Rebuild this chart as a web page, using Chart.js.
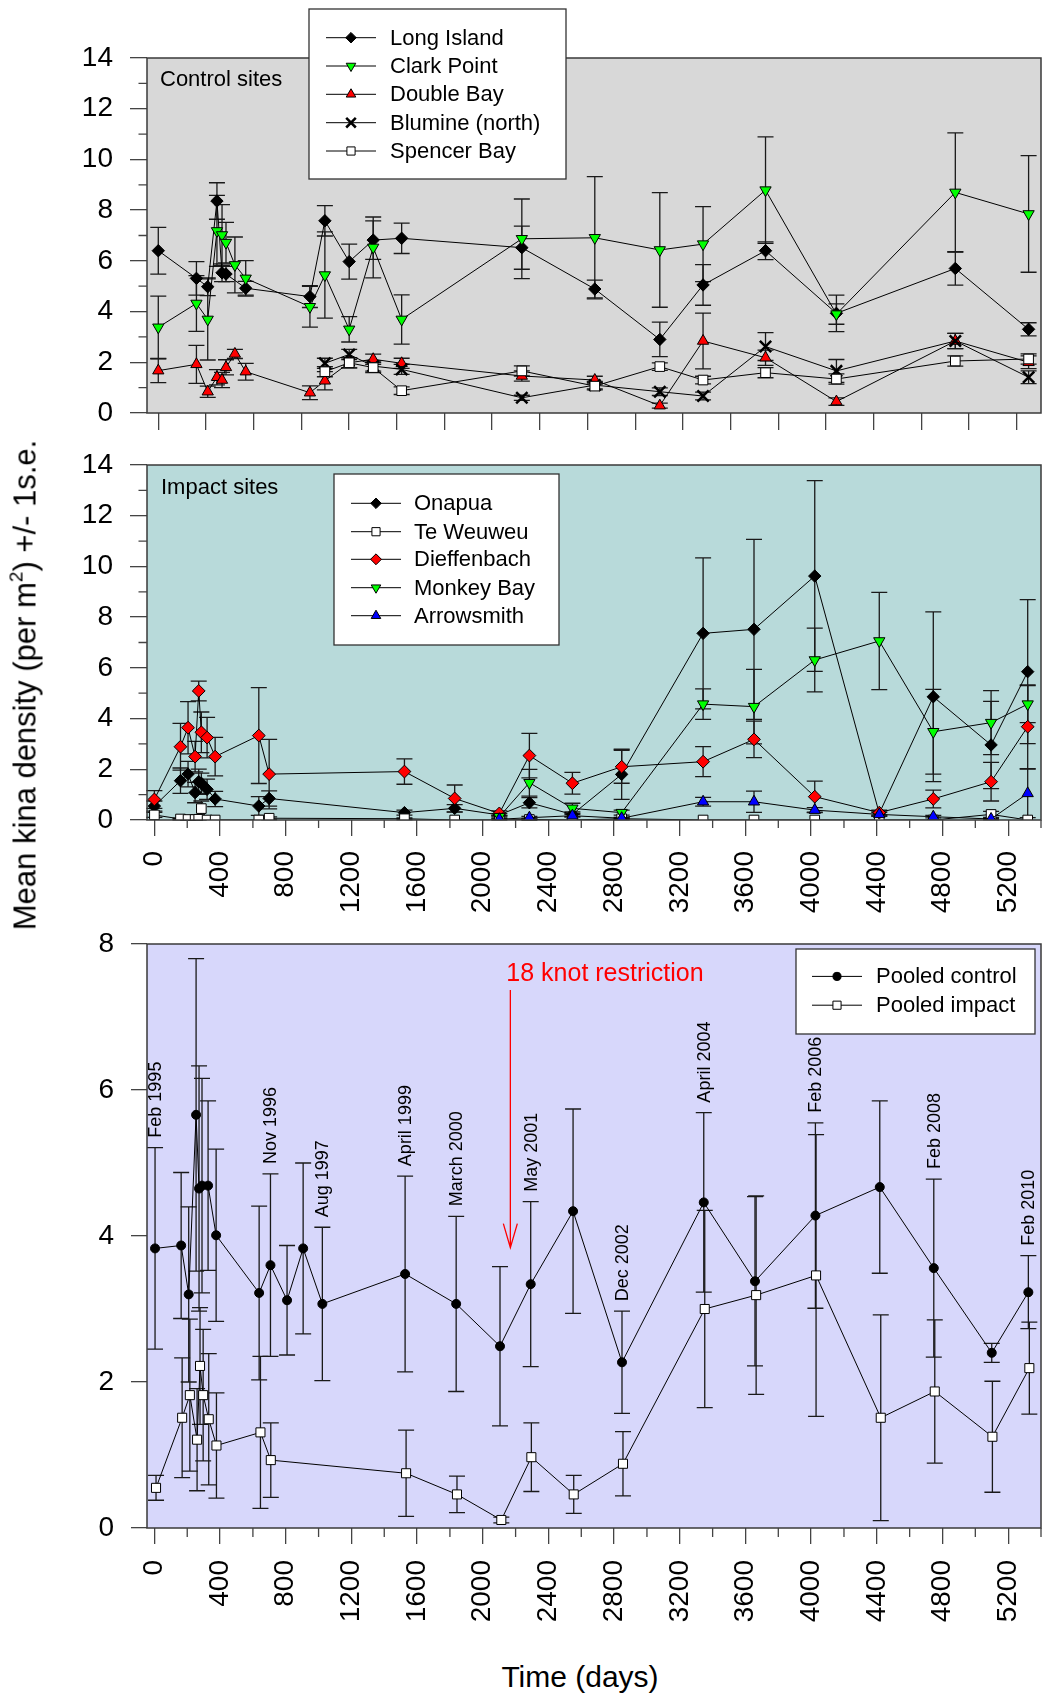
<!DOCTYPE html>
<html>
<head>
<meta charset="utf-8">
<script src="https://cdn.jsdelivr.net/npm/chart.js@4.4.0/dist/chart.umd.min.js"></script>
<style>
  body { margin: 0; background: #fff; }
  #fig { position: relative; width: 1044px; height: 1699px; background: #fff; overflow: hidden;
         font-family: "Liberation Sans", Arial, sans-serif; color: #000; }
  #fig canvas { position: absolute; left: 0; }
  #ytitle { position: absolute; left: 25px; top: 685px; font-size: 31px; line-height: 31px; white-space: nowrap;
            transform: translate(-50%, -50%) rotate(-90deg); }
  #ytitle sup { font-size: 19px; line-height: 0; position: relative; top: -2px; }
  #xtitle { position: absolute; left: 0; width: 1160px; top: 1662px; font-size: 30px; line-height: 30px; text-align: center; }
</style>
</head>
<body>
<div id="fig">
  <canvas id="c1" width="1044" height="440" style="top:0px"></canvas>
  <canvas id="c2" width="1044" height="480" style="top:440px"></canvas>
  <canvas id="c3" width="1044" height="720" style="top:920px"></canvas>
  <div id="ytitle">Mean kina density (per m<sup>2</sup>) +/- 1s.e.</div>
  <div id="xtitle">Time (days)</div>
</div>
<script>
// ---- axis ticks ----
const dayTicks = [0, 400, 800, 1200, 1600, 2000, 2400, 2800, 3200, 3600, 4000, 4400, 4800, 5200];
const dayMinorTicks = [200, 600, 1000, 1400, 1800, 2200, 2600, 3000, 3400, 3800, 4200, 4600, 5000, 5400];
const controlAxisTicks = [0, 300, 600, 900, 1200, 1500, 1800, 2100, 2400, 2700, 3000, 3300, 3600, 3900, 4200, 4500, 4800, 5100, 5400];
const densityMinorTicks = [1, 3, 5, 7, 9, 11, 13];

// ---- control sites (top panel) ----
const controlDays = [0, 240, 311, 369, 401, 426, 482, 550, 954, 1048, 1201, 1352, 1531, 2287, 2746, 3155, 3427, 3820, 4266, 5014, 5475];
const longIsland   = [6.40, 5.31, 4.98, 8.36, 5.53, 5.48, null, 4.92, 4.59, 7.58, 5.97, 6.82, 6.89, 6.52, 4.89, 2.90, 5.05, 6.40, 3.93, 5.70, 3.30];
const longIslandSE = [0.92, 0.66, 0.35, 0.72, 0.35, 0.30, null, 0.27, 0.43, 0.60, 0.69, 0.76, 0.60, 0.85, 0.35, 0.68, 0.80, 0.35, 0.72, 0.66, 0.26];
const clarkPoint   = [3.38, 4.32, 3.69, 7.18, 7.02, 6.72, 5.84, 5.31, 4.19, 5.44, 3.30, 6.53, 3.69, 6.87, 6.91, 6.43, 6.66, 8.79, 3.90, 8.70, 7.85];
const clarkPointSE = [1.23, 1.10, 1.60, 1.40, 1.20, 0.80, 1.10, 0.70, 0.80, 1.70, 0.50, 1.20, 0.97, 1.57, 2.41, 2.26, 1.48, 2.10, 0.40, 2.35, 2.30];
const doubleBay    = [1.67, 1.92, 0.84, 1.41, 1.30, 1.80, 2.33, 1.63, 0.80, 1.27, 1.98, 2.12, 1.96, 1.46, 1.30, 0.29, 2.84, 2.18, 0.45, 2.84, 2.00];
const doubleBaySE  = [0.47, 0.75, 0.22, 0.30, 0.30, 0.30, 0.18, 0.33, 0.27, 0.36, 0.20, 0.20, 0.20, 0.20, 0.15, 0.10, 1.10, 0.30, 0.15, 0.30, 0.25];
const blumine      = [null, null, null, null, null, null, null, null, null, 1.96, 2.31, 1.85, 1.72, 0.60, 1.10, 0.84, 0.67, 2.62, 1.66, 2.84, 1.41];
const blumineSE    = [null, null, null, null, null, null, null, null, null, 0.20, 0.20, 0.20, 0.20, 0.10, 0.15, 0.15, 0.15, 0.55, 0.45, 0.30, 0.25];
const spencerBay   = [null, null, null, null, null, null, null, null, null, 1.63, 1.98, 1.79, 0.88, 1.66, 1.06, 1.83, 1.30, 1.59, 1.34, 2.05, 2.13];
const spencerBaySE = [null, null, null, null, null, null, null, null, null, 0.20, 0.20, 0.20, 0.15, 0.20, 0.15, 0.15, 0.15, 0.20, 0.20, 0.20, 0.20];

// ---- impact sites (middle panel) ----
const impactDays = [0, 159, 205, 248, 270, 286, 321, 370, 636, 699, 1523, 1829, 2101, 2284, 2546, 2846, 3342, 3652, 4022, 4415, 4744, 5096, 5319];
const onapua        = [0.55, 1.55, 1.81, 1.08, 1.51, 1.45, 1.21, 0.83, 0.55, 0.85, 0.29, 0.46, 0.20, 0.68, 0.22, 1.80, 7.36, 7.52, 9.62, 0.26, 4.86, 2.96, 5.85];
const onapuaSE      = [0.20, 0.50, 0.50, 0.40, 0.50, 0.40, 0.40, 0.30, 0.37, 0.30, 0.10, 0.15, 0.05, 0.20, 0.10, 0.99, 2.98, 3.55, 3.76, 0.10, 3.35, 1.72, 2.84];
const teWeuweu      = [0.20, 0.04, 0.02, 0.02, 0.03, 0.45, 0.00, 0.00, 0.00, 0.07, 0.05, 0.00, 0.00, 0.02, 0.00, 0.05, 0.00, 0.00, 0.00, 0.00, 0.00, 0.22, 0.00];
const teWeuweuSE    = [0.10, 0.03, 0.02, 0.02, 0.02, 0.30, 0, 0, 0, 0.05, 0.03, 0, 0, 0.02, 0, 0.03, 0, 0, 0, 0, 0, 0.12, 0];
const dieffenbach   = [0.81, 2.89, 3.64, 2.50, 5.09, 3.46, 3.25, 2.50, 3.33, 1.81, 1.91, 0.85, 0.26, 2.54, 1.45, 2.10, 2.30, 3.18, 0.92, 0.29, 0.83, 1.51, 3.68];
const dieffenbachSE = [0.35, 0.92, 1.03, 0.60, 0.39, 0.80, 0.80, 0.76, 1.89, 1.37, 0.50, 0.53, 0.10, 0.88, 0.43, 0.65, 0.59, 0.72, 0.61, 0.10, 0.35, 0.76, 1.65];
const monkeyBay     = [null, null, null, null, null, null, null, null, null, null, null, null, 0.13, 1.47, 0.46, 0.29, 4.57, 4.47, 6.31, 7.06, 3.48, 3.84, 4.57];
const monkeyBaySE   = [null, null, null, null, null, null, null, null, null, null, null, null, 0.05, 0.53, 0.20, 0.10, 0.60, 1.47, 1.26, 1.92, 1.67, 1.26, 0.73];
const arrowsmith    = [null, null, null, null, null, null, null, null, null, null, null, null, 0.03, 0.09, 0.17, 0.07, 0.72, 0.72, 0.39, 0.22, 0.13, 0.04, 1.05];
const arrowsmithSE  = [null, null, null, null, null, null, null, null, null, null, null, null, 0.02, 0.05, 0.05, 0.03, 0.17, 0.42, 0.10, 0.08, 0.05, 0.02, 0.96];

// ---- pooled (bottom panel) ----
const pooledControlDays = [4, 163, 209, 254, 272, 290, 327, 376, 638, 707, 808, 906, 1023, 1527, 1838, 2105, 2292, 2550, 2848, 3346, 3658, 4026, 4418, 4747, 5100, 5323];
const pooledControl     = [3.83, 3.87, 3.20, 5.66, 4.65, 4.69, 4.69, 4.01, 3.22, 3.60, 3.12, 3.83, 3.07, 3.48, 3.07, 2.49, 3.34, 4.34, 2.27, 4.46, 3.38, 4.28, 4.67, 3.56, 2.40, 3.23];
const pooledControlSE   = [1.38, 1.00, 1.20, 2.14, 1.68, 1.47, 1.16, 1.18, 1.19, 1.25, 0.75, 1.17, 1.05, 1.34, 1.20, 1.09, 1.13, 1.40, 0.70, 1.23, 1.16, 1.27, 1.18, 1.22, 0.13, 0.50];
const pooledImpactDays  = [10, 169, 216, 260, 278, 297, 331, 378, 646, 709, 1533, 1843, 2113, 2296, 2554, 2854, 3352, 3665, 4030, 4424, 4753, 5104, 5329];
const pooledImpact      = [0.55, 1.51, 1.82, 1.21, 2.22, 1.82, 1.49, 1.13, 1.31, 0.93, 0.75, 0.46, 0.11, 0.97, 0.46, 0.88, 3.00, 3.19, 3.46, 1.51, 1.87, 1.25, 2.19];
const pooledImpactSE    = [0.17, 0.82, 1.04, 0.70, 0.80, 0.90, 0.90, 0.72, 1.04, 0.51, 0.59, 0.25, 0.04, 0.47, 0.26, 0.44, 1.35, 1.36, 1.93, 1.41, 0.98, 0.76, 0.63];

// survey dates written above the pooled control points (index into pooledControlDays)
const surveyLabels  = ['Feb 1995', 'Nov 1996', 'Aug 1997', 'April 1999', 'March 2000', 'May 2001', 'Dec 2002', 'April 2004', 'Feb 2006', 'Feb 2008', 'Feb 2010'];
const surveyLabelAt = [0, 9, 12, 13, 14, 16, 18, 19, 21, 23, 25];

// speed restriction arrow
const restrictionText = '18 knot restriction';
const restrictionDay = 2168;
const restrictionFrom = 7.37;
const restrictionTo = 3.84;
const restrictionTextValue = 7.59;

const FONT = '"Liberation Sans", Arial, sans-serif';
Chart.defaults.font.family = FONT;
Chart.defaults.color = '#000';

// build scatter points, skipping missing samples
function pts(days, vals, se) {
  const out = [];
  days.forEach((d, i) => {
    if (vals[i] === null) return;
    out.push({ x: d, y: vals[i], e: se[i] });
  });
  return out;
}

function series(label, data, shape, radius, fill, order, extra) {
  return Object.assign({
    label: label,
    data: data,
    showLine: true,
    borderColor: '#000',
    borderWidth: 1,
    pointStyle: shape,
    pointRadius: radius,
    pointRotation: 0,
    pointBackgroundColor: fill,
    pointBorderColor: '#000',
    pointBorderWidth: 1,
    order: order
  }, extra || {});
}

// small marker for the legends
function drawMarker(ctx, shape, x, y, r, rot, fill, bw) {
  ctx.save();
  ctx.translate(x, y);
  ctx.rotate((rot || 0) * Math.PI / 180);
  ctx.beginPath();
  if (shape === 'circle') {
    ctx.arc(0, 0, r, 0, Math.PI * 2);
  } else if (shape === 'rect') {
    const s = r * Math.SQRT1_2;
    ctx.rect(-s, -s, 2 * s, 2 * s);
  } else if (shape === 'rectRot') {
    ctx.moveTo(0, -r); ctx.lineTo(r, 0); ctx.lineTo(0, r); ctx.lineTo(-r, 0); ctx.closePath();
  } else if (shape === 'triangle') {
    for (let k = 0; k < 3; k++) {
      const a = k * 2 * Math.PI / 3;
      if (k === 0) ctx.moveTo(Math.sin(a) * r, -Math.cos(a) * r);
      else ctx.lineTo(Math.sin(a) * r, -Math.cos(a) * r);
    }
    ctx.closePath();
  } else if (shape === 'crossRot') {
    const s = r * Math.SQRT1_2;
    ctx.moveTo(-s, -s); ctx.lineTo(s, s); ctx.moveTo(-s, s); ctx.lineTo(s, -s);
  }
  ctx.fillStyle = fill;
  ctx.strokeStyle = '#000';
  ctx.lineWidth = bw;
  if (shape !== 'crossRot') ctx.fill();
  ctx.stroke();
  ctx.restore();
}

// background, error bars, frame, minor ticks, legend and notes
const panelPlugin = {
  id: 'panel',
  beforeDraw(chart, args, o) {
    const { ctx, chartArea: a } = chart;
    ctx.save();
    ctx.fillStyle = o.bg;
    ctx.fillRect(a.left, a.top, a.right - a.left, a.bottom - a.top);
    ctx.restore();
  },
  beforeDatasetsDraw(chart, args, o) {
    const ctx = chart.ctx, xs = chart.scales.x, ys = chart.scales.y;
    ctx.save();
    ctx.strokeStyle = '#1a1a1a';
    ctx.lineWidth = 1.3;
    chart.data.datasets.forEach(ds => {
      ds.data.forEach(p => {
        if (!p.e) return;
        const px = xs.getPixelForValue(p.x);
        const hi = ys.getPixelForValue(p.y + p.e);
        const lo = ys.getPixelForValue(Math.max(0, p.y - p.e));
        ctx.beginPath();
        ctx.moveTo(px, hi); ctx.lineTo(px, lo);
        ctx.moveTo(px - o.cap, hi); ctx.lineTo(px + o.cap, hi);
        ctx.moveTo(px - o.cap, lo); ctx.lineTo(px + o.cap, lo);
        ctx.stroke();
      });
    });
    ctx.restore();
  },
  afterDraw(chart, args, o) {
    const { ctx, chartArea: a } = chart;
    const xs = chart.scales.x, ys = chart.scales.y;
    ctx.save();
    // frame
    ctx.strokeStyle = '#3a3a3a';
    ctx.lineWidth = 1.5;
    ctx.strokeRect(a.left, a.top, a.right - a.left, a.bottom - a.top);

    // minor ticks
    ctx.lineWidth = 1.3;
    ctx.strokeStyle = '#444';
    ctx.beginPath();
    if (o.minorX) {
      o.minorX.values.forEach(v => {
        const px = xs.getPixelForValue(v);
        ctx.moveTo(px, a.bottom); ctx.lineTo(px, a.bottom + o.minorX.len);
      });
    }
    if (o.minorY) {
      o.minorY.values.forEach(v => {
        const py = ys.getPixelForValue(v);
        ctx.moveTo(a.left, py); ctx.lineTo(a.left - o.minorY.len, py);
      });
    }
    ctx.stroke();

    // panel notes
    (o.notes || []).forEach(n => {
      ctx.font = n.size + 'px ' + FONT;
      ctx.fillStyle = n.color || '#000';
      ctx.textBaseline = 'middle';
      ctx.textAlign = 'left';
      ctx.fillText(n.text, n.x, n.y);
    });

    // legend box
    if (o.legend) {
      const L = o.legend;
      ctx.fillStyle = '#fff';
      ctx.fillRect(L.box[0], L.box[1], L.box[2] - L.box[0], L.box[3] - L.box[1]);
      ctx.strokeStyle = '#333';
      ctx.lineWidth = 1.3;
      ctx.strokeRect(L.box[0], L.box[1], L.box[2] - L.box[0], L.box[3] - L.box[1]);
      chart.data.datasets.forEach((ds, i) => {
        const y = L.rows[i];
        ctx.strokeStyle = '#000';
        ctx.lineWidth = 1;
        ctx.beginPath();
        ctx.moveTo(L.line[0], y); ctx.lineTo(L.line[1], y);
        ctx.stroke();
        drawMarker(ctx, ds.pointStyle, (L.line[0] + L.line[1]) / 2, y, ds.pointRadius * L.scale,
                   ds.pointRotation, ds.pointBackgroundColor, ds.pointBorderWidth);
        ctx.font = L.size + 'px ' + FONT;
        ctx.fillStyle = '#000';
        ctx.textAlign = 'left';
        ctx.textBaseline = 'middle';
        ctx.fillText(ds.label, L.textX, y + 1);
      });
    }

    // survey dates above pooled control error bars
    if (o.dates) {
      const ds = chart.data.datasets[0];
      ctx.font = '18px ' + FONT;
      ctx.fillStyle = '#000';
      ctx.textAlign = 'left';
      ctx.textBaseline = 'middle';
      surveyLabels.forEach((t, i) => {
        const p = ds.data[surveyLabelAt[i]];
        const px = xs.getPixelForValue(p.x);
        const py = ys.getPixelForValue(p.y + p.e) - 10;
        ctx.save();
        ctx.translate(px + 1, py);
        ctx.rotate(-Math.PI / 2);
        ctx.fillText(t, 0, 0);
        ctx.restore();
      });
    }

    // restriction arrow
    if (o.arrow) {
      const ax = xs.getPixelForValue(restrictionDay);
      const y1 = ys.getPixelForValue(restrictionFrom);
      const y2 = ys.getPixelForValue(restrictionTo);
      ctx.strokeStyle = '#ff0000';
      ctx.lineWidth = 1.3;
      ctx.beginPath();
      ctx.moveTo(ax, y1); ctx.lineTo(ax, y2);
      ctx.moveTo(ax - 7, y2 - 24); ctx.lineTo(ax, y2); ctx.lineTo(ax + 7, y2 - 24);
      ctx.stroke();
      ctx.font = '25px ' + FONT;
      ctx.fillStyle = '#ff0000';
      ctx.textAlign = 'left';
      ctx.textBaseline = 'middle';
      ctx.fillText(restrictionText, ax - 4, ys.getPixelForValue(restrictionTextValue));
    }
    ctx.restore();
  }
};

function yAxis(max, tickLen) {
  return {
    type: 'linear', min: 0, max: max,
    ticks: { stepSize: 2, font: { size: 28 }, color: '#000', padding: 17 },
    grid: { drawOnChartArea: false, drawTicks: true, tickLength: tickLen, color: '#444', lineWidth: 1.3 },
    border: { display: false },
    afterFit: s => { s.width = 147; s.paddingTop = 0; s.paddingBottom = 0; }
  };
}

function xAxis(min, max, tickValues, tickLen, labels, height, pad) {
  return {
    type: 'linear', min: min, max: max,
    afterBuildTicks: s => { s.ticks = tickValues.map(v => ({ value: v })); },
    ticks: { display: labels, autoSkip: false, minRotation: 90, maxRotation: 90,
             font: { size: 28 }, color: '#000', padding: pad, callback: v => String(v) },
    grid: { drawOnChartArea: false, drawTicks: true, tickLength: tickLen, color: '#444', lineWidth: 1.3 },
    border: { display: false },
    afterFit: s => { s.height = height; s.paddingLeft = 0; s.paddingRight = 0; }
  };
}

function makePanel(id, datasets, scales, padTop, panelOpts) {
  return new Chart(document.getElementById(id), {
    type: 'scatter',
    data: { datasets: datasets },
    options: {
      responsive: false,
      animation: false,
      events: [],
      layout: { autoPadding: false, padding: { top: padTop, right: 3, left: 0, bottom: 0 } },
      plugins: { legend: { display: false }, tooltip: { enabled: false }, panel: panelOpts },
      scales: scales
    },
    plugins: [panelPlugin]
  });
}

// top panel: control sites
makePanel('c1', [
  series('Long Island', pts(controlDays, longIsland, longIslandSE), 'rectRot', 6.2, '#000', 5),
  series('Clark Point', pts(controlDays, clarkPoint, clarkPointSE), 'triangle', 6.5, '#00ff00', 4, { pointRotation: 180 }),
  series('Double Bay', pts(controlDays, doubleBay, doubleBaySE), 'triangle', 6.5, '#ff0000', 3),
  series('Blumine (north)', pts(controlDays, blumine, blumineSE), 'crossRot', 8, '#000', 2, { pointBorderWidth: 2.5 }),
  series('Spencer Bay', pts(controlDays, spencerBay, spencerBaySE), 'rect', 6.8, '#fff', 1)
], {
  x: xAxis(-71, 5553, controlAxisTicks, 17, false, 27, 0),
  y: yAxis(14, 17)
}, 58, {
  bg: '#d8d8d8', cap: 8,
  minorY: { values: densityMinorTicks, len: 8.5 },
  notes: [{ text: 'Control sites', x: 160, y: 80, size: 22 }],
  legend: { box: [309, 9, 566, 179], rows: [37.7, 66, 94.3, 122.7, 151], line: [326, 376], textX: 390, size: 22, scale: 0.85 }
});

// middle panel: impact sites
makePanel('c2', [
  series('Onapua', pts(impactDays, onapua, onapuaSE), 'rectRot', 6.2, '#000', 5),
  series('Te Weuweu', pts(impactDays, teWeuweu, teWeuweuSE), 'rect', 6.8, '#fff', 4),
  series('Dieffenbach', pts(impactDays, dieffenbach, dieffenbachSE), 'rectRot', 6.4, '#ff0000', 3),
  series('Monkey Bay', pts(impactDays, monkeyBay, monkeyBaySE), 'triangle', 6.5, '#00ff00', 2, { pointRotation: 180 }),
  series('Arrowsmith', pts(impactDays, arrowsmith, arrowsmithSE), 'triangle', 6.5, '#0000ff', 1)
], {
  x: xAxis(-45, 5400, dayTicks, 16, true, 100, 15),
  y: yAxis(14, 17)
}, 25, {
  bg: '#b8dada', cap: 8,
  minorX: { values: dayMinorTicks, len: 8 },
  minorY: { values: densityMinorTicks, len: 8.5 },
  notes: [{ text: 'Impact sites', x: 161, y: 48, size: 22 }],
  legend: { box: [334, 34, 559, 205], rows: [63.3, 91.7, 119.3, 147.7, 175.7], line: [351, 401], textX: 414, size: 22, scale: 0.85 }
});

// bottom panel: pooled
makePanel('c3', [
  series('Pooled control', pts(pooledControlDays, pooledControl, pooledControlSE), 'circle', 4.5, '#000', 2),
  series('Pooled impact', pts(pooledImpactDays, pooledImpact, pooledImpactSE), 'rect', 6.4, '#fff', 1)
], {
  x: xAxis(-45, 5400, dayTicks, 16, true, 112, 16),
  y: yAxis(8, 16)
}, 24, {
  bg: '#d7d7fb', cap: 8,
  minorX: { values: dayMinorTicks, len: 9 },
  dates: true,
  arrow: true,
  legend: { box: [796, 29, 1035, 114], rows: [56.4, 85.2], line: [812, 862], textX: 876, size: 22, scale: 0.9 }
});
</script>
</body>
</html>
